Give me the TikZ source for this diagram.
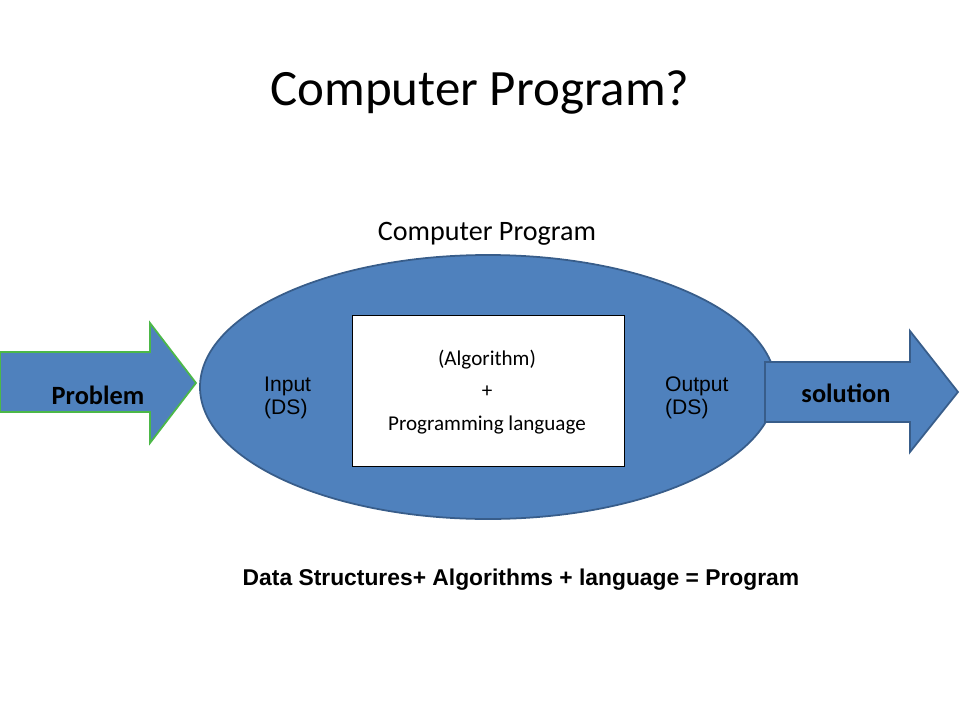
\documentclass[tikz,border=0pt]{standalone}
\usepackage{fontspec}
\setmainfont{Carlito}
\newfontfamily\arialfont{Liberation Sans}
\definecolor{progblue}{HTML}{4F81BD}
\definecolor{progedge}{HTML}{385D8A}
\definecolor{arrowgreen}{HTML}{4CB848}
\begin{document}
\begin{tikzpicture}[x=0.02cm,y=-0.02cm,
    blockarrow/.style={fill=progblue,line width=1pt},
    dslabel/.style={font=\arialfont\fontsize{12}{13}\selectfont,align=left,anchor=west}]
\useasboundingbox (0,0) rectangle (960,720);
\node (title) at (480,92) {\fontsize{29}{34}\selectfont Computer Program?};
\node (proglabel) at (487,234) {\fontsize{16}{19}\selectfont Computer Program};
% the program itself
\draw[fill=progblue,draw=progedge,line width=1pt] (488,387) ellipse [x radius=288,y radius=132];
\node (core) [draw=black,fill=white,minimum width=272*0.02cm,minimum height=151*0.02cm] at (488,390.5) {};
\node (algo) at (487,392) [align=center,font=\fontsize{12}{18.5}\selectfont] {(Algorithm)\\+\\Programming language};
\node (input) [dslabel] at (258,398) {Input\\(DS)};
\node (output) [dslabel] at (659,398) {Output\\(DS)};
% problem and solution arrows
\draw[blockarrow,draw=arrowgreen] (0,352) -- (150,352) -- (150,323) -- (196,383) -- (150,443) -- (150,412) -- (0,412) -- cycle;
\node (problem) at (98,395) {\fontsize{15}{18}\selectfont\bfseries Problem};
\draw[blockarrow,draw=progedge] (765,362) -- (910,362) -- (910,331) -- (958,392) -- (910,452) -- (910,422) -- (765,422) -- cycle;
\node (solution) at (846,393) {\fontsize{15}{18}\selectfont\bfseries solution};
\node (formula) at (521,580) {\arialfont\fontsize{13}{16}\selectfont\bfseries Data Structures+ Algorithms + language = Program};
\end{tikzpicture}
\end{document}
